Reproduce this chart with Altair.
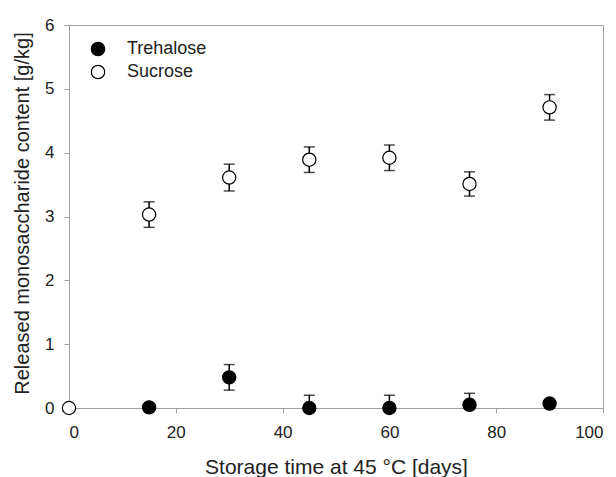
import altair as alt
import pandas as pd

# ---- data ----
treh_days = [15, 30, 45, 60, 75, 90]
treh_mean = [0.01, 0.48, 0.0, 0.0, 0.05, 0.07]
treh_err = [0.0, 0.2, 0.2, 0.2, 0.18, 0.0]

sucr_days = [0, 15, 30, 45, 60, 75, 90]
sucr_mean = [0.0, 3.03, 3.61, 3.89, 3.92, 3.51, 4.71]
sucr_err = [0.0, 0.2, 0.21, 0.2, 0.2, 0.19, 0.2]

series_order = ["Trehalose", "Sucrose"]
x_ticks = [0, 20, 40, 60, 80, 100]
y_ticks = [0, 1, 2, 3, 4, 5, 6]

rows = []
for d, m, e in zip(treh_days, treh_mean, treh_err):
    rows.append({"day": d, "value": m, "lo": m - e, "hi": m + e, "series": "Trehalose"})
for d, m, e in zip(sucr_days, sucr_mean, sucr_err):
    rows.append({"day": d, "value": m, "lo": m - e, "hi": m + e, "series": "Sucrose"})
df = pd.DataFrame(rows)
df_err = df[df["hi"] > df["lo"]]

FONT = "Liberation Sans"

x_enc = alt.X(
    "day:Q",
    scale=alt.Scale(domain=[0, 100], nice=False),
    axis=alt.Axis(
        values=x_ticks,
        format="d",
        title="Storage time at 45 °C [days]",
        titleX=267,
        titleY=65,
        titleBaseline="alphabetic",
        titleFontSize=21,
        labelPadding=11,
    ),
)
y_enc = alt.Y(
    "value:Q",
    scale=alt.Scale(domain=[0, 6], nice=False),
    axis=alt.Axis(
        values=y_ticks,
        format="d",
        title="Released monosaccharide content [g/kg]",
        titleX=-41,
        titleY=188,
        titleAngle=-90,
        titleAlign="center",
        titleBaseline="alphabetic",
        titleFontSize=20,
        labelPadding=10,
    ),
)

base = alt.Chart(df_err)

rules = base.mark_rule(color="black", strokeWidth=1.5, clip=True).encode(
    x=x_enc, y=alt.Y("lo:Q"), y2="hi:Q"
)
cap_hi = base.mark_tick(orient="horizontal", size=11, thickness=1.5, color="black", clip=True).encode(
    x="day:Q", y="hi:Q"
)
cap_lo = base.mark_tick(orient="horizontal", size=11, thickness=1.5, color="black", clip=True).encode(
    x="day:Q", y="lo:Q"
)

points = alt.Chart(df).mark_circle(size=175, stroke="black", strokeWidth=1.2, opacity=1).encode(
    x=x_enc,
    y=y_enc,
    fill=alt.Fill(
        "series:N",
        scale=alt.Scale(domain=series_order, range=["black", "white"]),
        legend=alt.Legend(
            orient="none",
            legendX=20,
            legendY=15,
            title=None,
            labelFontSize=18,
            labelFont=FONT,
            labelColor="#222222",
            symbolSize=180,
            symbolType="circle",
            symbolStrokeColor="black",
            symbolStrokeWidth=1.2,
            labelOffset=20,
            rowPadding=3,
            padding=0,
        ),
    ),
    order=alt.Order("series:N", sort="ascending"),
)

chart = (
    alt.layer(rules, cap_hi, cap_lo, points)
    .properties(
        width=534,
        height=383,
        autosize=alt.AutoSizeParams(type="none"),
        padding={"left": 69, "top": 25, "right": 13, "bottom": 69},
        background="white",
    )
    .configure_view(stroke="#a0a0a0", strokeWidth=1)
    .configure_axis(
        grid=False,
        domainColor="#a0a0a0",
        tickColor="#a0a0a0",
        tickSize=5,
        labelFont=FONT,
        labelFontSize=17,
        labelColor="#222222",
        titleFont=FONT,
        titleFontWeight="normal",
        titleColor="#222222",
    )
)

chart.save("out.html", embed_options={"renderer": "svg", "actions": False})
